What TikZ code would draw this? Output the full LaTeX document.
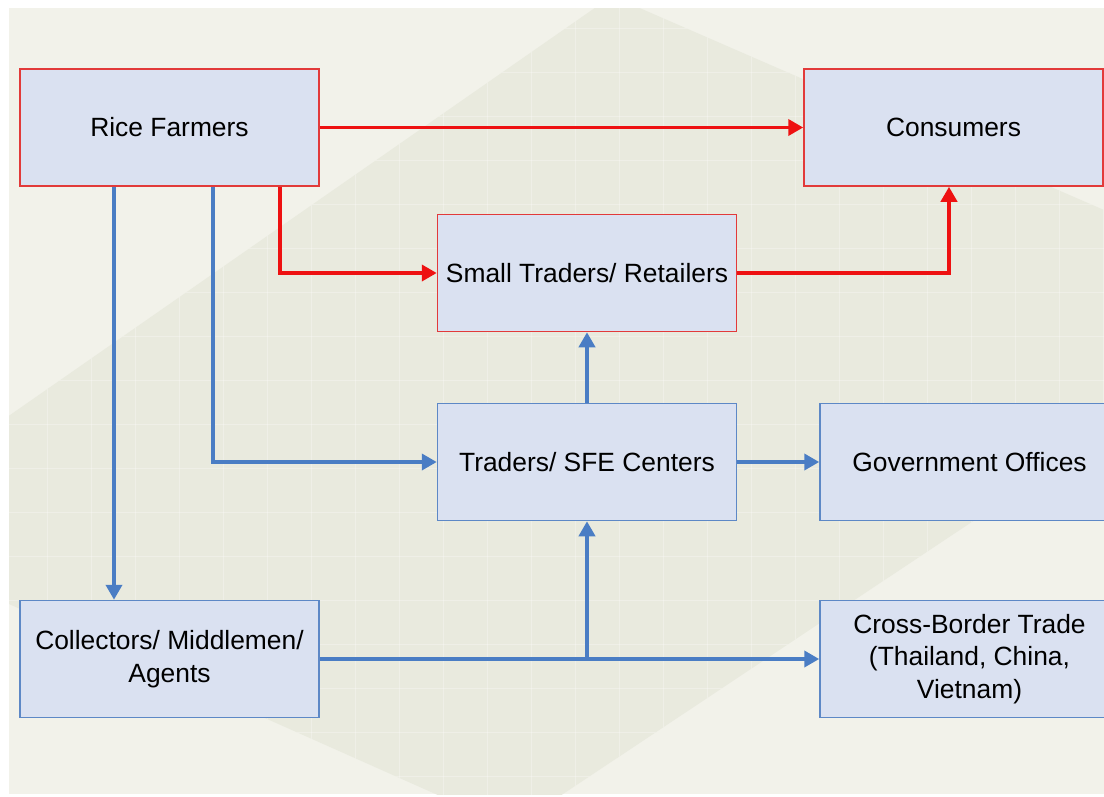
\documentclass[tikz,border=0pt]{standalone}
\usepackage{fontspec}
\setmainfont{Liberation Sans}
\usetikzlibrary{arrows.meta}
\definecolor{bglight}{HTML}{F2F2EA}
\definecolor{bgdark}{HTML}{E9EADE}
\definecolor{boxfill}{HTML}{DAE1F1}
\definecolor{redline}{HTML}{EE1111}
\definecolor{redborder}{HTML}{E23A3A}
\definecolor{blueline}{HTML}{4A7DC4}
\definecolor{blueborder}{HTML}{5D88C6}
\tikzset{
  box/.style={draw, fill=boxfill, line width=1.5pt, minimum width=299pt, minimum height=117pt,
    inner sep=0pt, align=center, font=\fontsize{26.4}{32.5}\selectfont, text=black},
  redbox/.style={box, draw=redborder},
  bluebox/.style={box, draw=blueborder},
  redarrow/.style={draw=redline, line width=3.8pt, -{Triangle[length=15pt,width=16pt]}},
  bluearrow/.style={draw=blueline, line width=3.8pt, -{Triangle[length=15pt,width=16pt]}}
}
\begin{document}
\begin{tikzpicture}[x=1pt,y=-1pt]
\useasboundingbox (0,0) rectangle (1104,796);
\fill[white] (0,0) rectangle (1104,796);
\fill[bglight] (9,8) rectangle (1104,794);
\begin{scope}
  \clip (9,8) rectangle (1104,794);
  \clip (612,-4) -- (1104,210) -- (1104,434) -- (560,796) -- (440,796) -- (0,600) -- (0,422) -- cycle;
  \fill[bgdark] (0,0) rectangle (1104,796);
  \foreach \gx in {3,47,...,1104} \draw[white, opacity=0.28, line width=1pt] (\gx,0) -- (\gx,796);
  \foreach \gy in {28,72,...,796} \draw[white, opacity=0.28, line width=1pt] (0,\gy) -- (1104,\gy);
\end{scope}
\begin{scope}
\clip (0,0) rectangle (1104,796);
\node[redbox] (rice) at (169.5,127.5) {Rice Farmers};
\node[redbox] (cons) at (953.5,127.5) {Consumers};
\node[redbox] (small) at (587,273) {Small Traders/ Retailers};
\node[bluebox] (sfe) at (587,462) {Traders/ SFE Centers};
\node[bluebox] (gov) at (969.5,462) {Government Offices};
\node[bluebox] (coll) at (169.5,659) {Collectors/ Middlemen/\\Agents};
\node[bluebox] (cross) at (969.5,659) {Cross-Border Trade\\(Thailand, China,\\Vietnam)};
\end{scope}
% red connectors
\draw[redarrow] (rice.east) -- (cons.west);
\draw[redarrow] (rice.south -| 280,0) |- (small.west);
\draw[redarrow] (small.east) -| (cons.south -| 949,0);
% blue connectors
\draw[bluearrow] (rice.south -| 114,0) -- (coll.north -| 114,0);
\draw[bluearrow] (rice.south -| 213,0) |- (sfe.west);
\draw[bluearrow] (sfe.north) -- (small.south);
\draw[bluearrow] (sfe.east) -- (gov.west);
\draw[bluearrow] (coll.east) -- (cross.west);
\coordinate (junc) at (sfe.south |- coll.east);
\draw[bluearrow] (junc) -- (sfe.south);
\end{tikzpicture}
\end{document}
